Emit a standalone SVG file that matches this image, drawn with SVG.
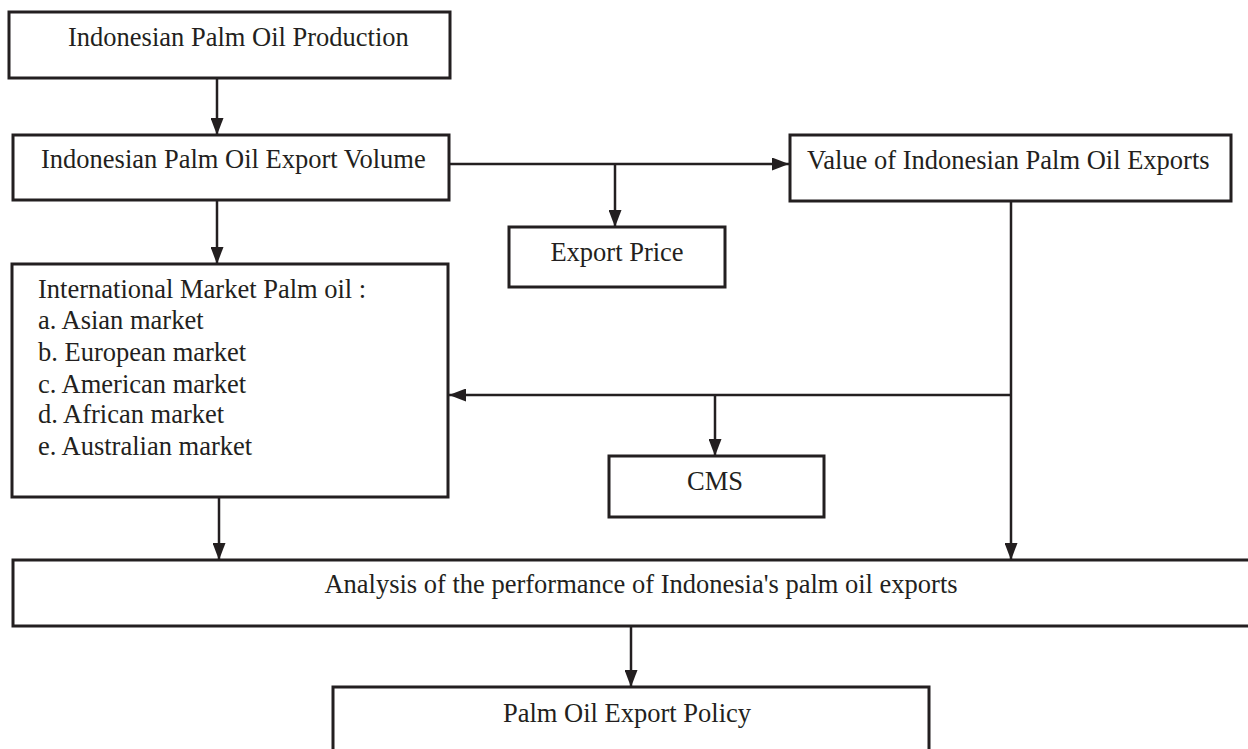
<svg xmlns="http://www.w3.org/2000/svg" width="1248" height="749" viewBox="0 0 1248 749">
<style>
.box{fill:#fff;stroke:#231f20;stroke-width:3}
.t{font-family:"Liberation Serif","Times New Roman",serif;font-size:26.5px;fill:#231f20}
.c{text-anchor:middle}
.ln{fill:none;stroke:#231f20;stroke-width:2.5;marker-end:url(#ah)}
</style>
<defs>
<marker id="ah" markerUnits="userSpaceOnUse" markerWidth="17" markerHeight="13" refX="17" refY="6.5" orient="auto">
<path d="M0,0 L17,6.5 L0,13 z" fill="#231f20"/>
</marker>
</defs>
<rect width="1248" height="749" fill="#fff"/>
<g id="connectors">
<line class="ln" x1="217" y1="78" x2="217" y2="135"/>
<line class="ln" x1="449" y1="164" x2="789" y2="164"/>
<line class="ln" x1="615" y1="164" x2="615" y2="227"/>
<line class="ln" x1="217" y1="200" x2="217" y2="264"/>
<line class="ln" x1="1011" y1="201" x2="1011" y2="560"/>
<line class="ln" x1="1011" y1="395" x2="449" y2="395"/>
<line class="ln" x1="715" y1="395" x2="715" y2="456"/>
<line class="ln" x1="219" y1="497" x2="219" y2="560"/>
<line class="ln" x1="631" y1="626" x2="631" y2="687"/>
</g>
<g id="production">
<rect class="box" x="9" y="12" width="441" height="66"/>
<text class="t" x="68" y="46">Indonesian Palm Oil Production</text>
</g>
<g id="volume">
<rect class="box" x="13" y="135" width="436" height="65"/>
<text class="t" x="41" y="168">Indonesian Palm Oil Export Volume</text>
</g>
<g id="value">
<rect class="box" x="790" y="135" width="441" height="66"/>
<text class="t" x="807" y="169">Value of Indonesian Palm Oil Exports</text>
</g>
<g id="price">
<rect class="box" x="509" y="227" width="216" height="60"/>
<text class="t c" x="617" y="261">Export Price</text>
</g>
<g id="market">
<rect class="box" x="12" y="264" width="436" height="233"/>
<text class="t" x="38" y="298">International Market Palm oil :</text>
<text class="t" x="38" y="329">a. Asian market</text>
<text class="t" x="38" y="361">b. European market</text>
<text class="t" x="38" y="393">c. American market</text>
<text class="t" x="38" y="423">d. African market</text>
<text class="t" x="38" y="455">e. Australian market</text>
</g>
<g id="cms">
<rect class="box" x="609" y="456" width="215" height="61"/>
<text class="t c" x="715" y="490">CMS</text>
</g>
<g id="analysis">
<rect class="box" x="13" y="560" width="1240" height="66"/>
<text class="t c" x="641" y="593">Analysis of the performance of Indonesia's palm oil exports</text>
</g>
<g id="policy">
<rect class="box" x="333" y="687" width="596" height="80"/>
<text class="t c" x="627" y="722">Palm Oil Export Policy</text>
</g>
</svg>
